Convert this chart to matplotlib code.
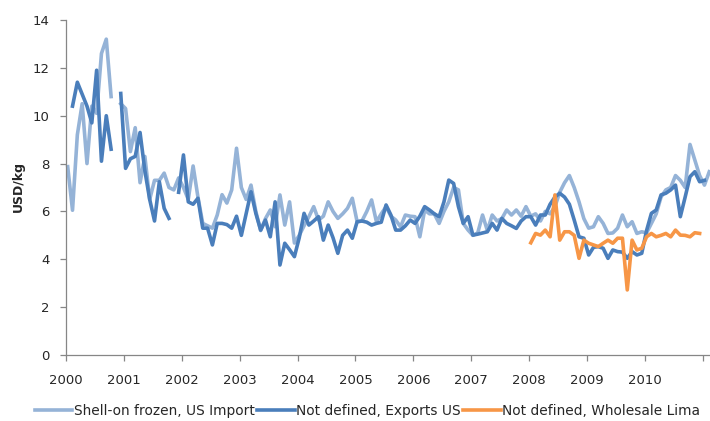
import numpy as np
import matplotlib
matplotlib.use("Agg")
import matplotlib.pyplot as plt

nan = np.nan

# monthly prices, USD/kg, first value = Jan 2000
shell_on_us_import = [
    7.87, 6.05, 9.2, 10.5, 8.0, 10.4, 10.1, 12.6, 13.2, 10.8, nan, 10.5,
    10.3, 8.5, 9.5, 7.2, 8.3, 6.5, 7.3, 7.3, 7.6, 7.0, 6.9, 7.4,
    7.0, 6.5, 7.9, 6.6, 5.5, 5.4, 5.3, 5.85, 6.7, 6.35, 6.9, 8.64,
    7.0, 6.5, 7.1, 6.0, 5.2, 5.7, 6.06, 5.36, 6.69, 5.43, 6.4, 4.68,
    5.0, 5.4, 5.78, 6.2, 5.64, 5.8, 6.4, 6.0, 5.71, 5.9, 6.13, 6.55,
    5.57, 5.6, 6.0, 6.48, 5.57, 5.9, 6.2, 5.8, 5.64, 5.36, 5.85, 5.8,
    5.78, 4.94, 6.06, 5.9, 5.9, 5.5, 6.0, 6.4, 7.0, 6.9, 5.5, 5.22,
    5.0, 5.1, 5.85, 5.2, 5.85, 5.6, 5.7, 6.06, 5.85, 6.06, 5.8, 6.2,
    5.8, 5.9, 5.6, 6.0, 5.9, 6.2, 6.8, 7.2, 7.5, 7.0, 6.4, 5.7,
    5.3, 5.36, 5.78, 5.5, 5.08, 5.1, 5.3, 5.85, 5.36, 5.57, 5.08, 5.15,
    5.1, 5.5, 5.9, 6.6, 6.9, 7.0, 7.5, 7.3, 7.0, 8.8, 8.15, 7.5,
    7.1, 7.66,
]

exports_us = [
    nan, 10.4, 11.4, 10.9, 10.4, 9.7, 11.9, 8.1, 10.0, 8.6, nan, 10.93,
    7.8, 8.2, 8.3, 9.3, 7.7, 6.5, 5.6, 7.24, 6.13, 5.71, nan, 6.8,
    8.36, 6.4, 6.3, 6.55, 5.3, 5.3, 4.6, 5.5, 5.5, 5.45, 5.3, 5.8,
    5.0, 5.9, 6.82, 5.92, 5.22, 5.64, 4.94, 6.4, 3.76, 4.67, 4.4, 4.11,
    4.9, 5.92, 5.43, 5.6, 5.78, 4.8, 5.43, 4.9, 4.25, 5.0, 5.22, 4.88,
    5.57, 5.6, 5.55, 5.43, 5.5, 5.55, 6.27, 5.85, 5.22, 5.22, 5.4, 5.64,
    5.5, 5.8, 6.2, 6.06, 5.9, 5.78, 6.4, 7.31, 7.17, 6.2, 5.5, 5.78,
    5.01, 5.05, 5.1, 5.15, 5.5, 5.22, 5.71, 5.5, 5.4, 5.29, 5.6, 5.78,
    5.78, 5.43, 5.85, 5.85, 6.3, 6.6, 6.76, 6.6, 6.3, 5.64, 4.94, 4.88,
    4.18, 4.5, 4.53, 4.46, 4.04, 4.39, 4.32, 4.3, 4.04, 4.32, 4.18, 4.25,
    5.2, 5.92, 6.06, 6.69, 6.76, 6.9, 7.1, 5.78, 6.6, 7.45, 7.66, 7.24,
    7.3,
]

# first value = Jan 2008
wholesale_lima_start = 96
wholesale_lima = [
    4.69, 5.08, 5.01, 5.22, 4.94, 6.69, 4.8, 5.15, 5.15, 5.0, 4.04, 4.8,
    4.67, 4.6, 4.53, 4.67, 4.8, 4.67, 4.88, 4.88, 2.72, 4.8, 4.39, 4.46,
    4.94, 5.08, 4.94, 5.0, 5.08, 4.94, 5.22, 5.01, 5.0, 4.94, 5.11, 5.08,
]

years = list(range(2000, 2011))
labels = ["Shell-on frozen, US Import", "Not defined, Exports US",
          "Not defined, Wholesale Lima"]
colors = ["#95B3D7", "#4A7EBB", "#F79646"]

fig = plt.figure(figsize=(7.10, 4.21), dpi=100)
ax = fig.add_axes([66 / 710, 1 - 355 / 421, 1 - 66 / 710, (355 - 20) / 421])

# points sit a little after the year tick, as in the source chart
off = 0.35
x1 = np.arange(len(shell_on_us_import)) + off
x2 = np.arange(len(exports_us)) + off
x3 = np.arange(len(wholesale_lima)) + wholesale_lima_start + off

ax.plot(x1, shell_on_us_import, color=colors[0], lw=2.6, label=labels[0],
        solid_joinstyle="round", clip_on=False)
ax.plot(x2, exports_us, color=colors[1], lw=2.6, label=labels[1],
        solid_joinstyle="round", clip_on=False)
ax.plot(x3, wholesale_lima, color=colors[2], lw=2.6, label=labels[2],
        solid_joinstyle="round", clip_on=False)

ax.set_xlim(0, 133.5)
ax.set_ylim(0, 14)
ax.set_yticks(range(0, 15, 2))
ax.set_xticks([12 * i for i in range(12)])
ax.set_xticklabels([str(y) for y in years] + [""])

for s in ["top", "right"]:
    ax.spines[s].set_visible(False)
for s in ["left", "bottom"]:
    ax.spines[s].set_color("#868686")
    ax.spines[s].set_linewidth(0.9)

ax.tick_params(axis="both", colors="#868686", labelcolor="#262626",
               labelsize=9.5, length=4, width=0.9, direction="out")
ax.tick_params(axis="y", pad=8)
ax.tick_params(axis="x", pad=10)

fig.text(18 / 710, 1 - 187 / 421, "USD/kg", rotation=90, ha="center",
         va="center", fontsize=9, fontweight="bold", color="#262626")

leg = fig.legend(loc="center", bbox_to_anchor=(367.5 / 710, 1 - 411 / 421),
                 ncol=3, frameon=False, fontsize=9.9, handlelength=2.75,
                 handletextpad=0.08, columnspacing=0.2, borderaxespad=0,
                 borderpad=0)
for t in leg.get_texts():
    t.set_color("#262626")

fig.savefig("out.png", dpi=100)
